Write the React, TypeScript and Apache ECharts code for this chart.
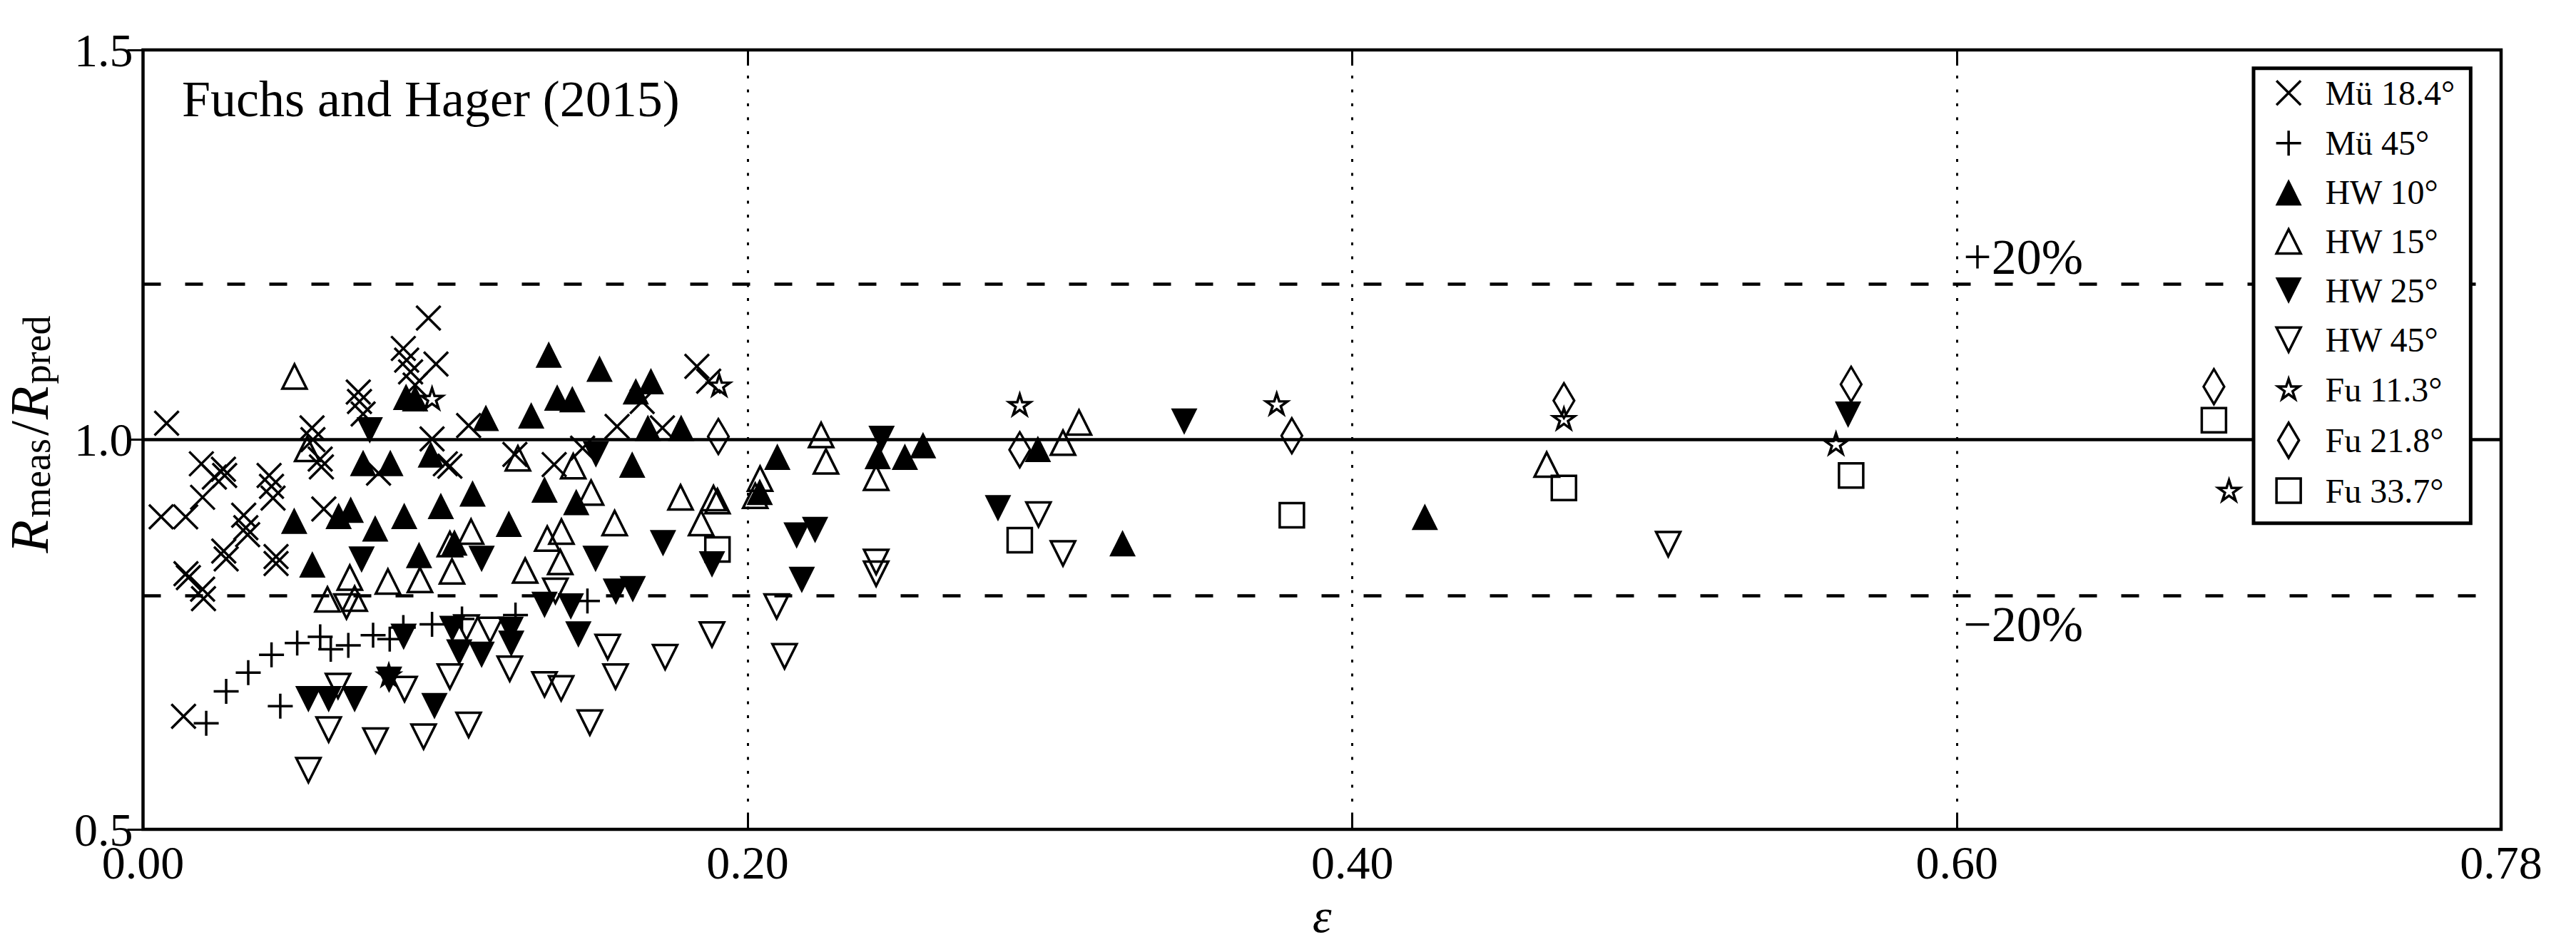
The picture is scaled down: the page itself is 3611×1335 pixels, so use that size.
import React, { useEffect, useRef } from 'react';
import * as echarts from 'echarts';

const FONT = "'Liberation Serif', 'Times New Roman', 'DejaVu Serif', serif";

// ---------- axes ----------
const X_MIN = 0;
const X_MAX = 0.78;
const X_INTERVAL = 0.2;
const Y_MIN = 0.5;
const Y_MAX = 1.5;
const Y_INTERVAL = 0.5;
const X_GRIDLINES = [0.2, 0.4, 0.6];
const REF_SOLID = [1.0];
const REF_DASHED = [1.2, 0.8];

// ---------- series names ----------
const seriesNames = ['Mü 18.4°', 'Mü 45°', 'HW 10°', 'HW 15°', 'HW 25°', 'HW 45°', 'Fu 11.3°', 'Fu 21.8°', 'Fu 33.7°'];

// ---------- data [epsilon, Rmeas/Rpred] ----------
const mu184 = [
  [0.0078, 1.021], [0.006, 0.901], [0.0141, 0.901], [0.0193, 0.969], [0.0236, 0.952], [0.0266, 0.962],
  [0.027, 0.954], [0.0197, 0.926], [0.0333, 0.903], [0.0417, 0.954], [0.0425, 0.94], [0.043, 0.925],
  [0.0142, 0.828], [0.015, 0.823], [0.0197, 0.808], [0.02, 0.796], [0.0267, 0.857], [0.0275, 0.847],
  [0.034, 0.887], [0.0346, 0.878], [0.044, 0.85], [0.044, 0.841], [0.0134, 0.645], [0.0559, 1.015],
  [0.0562, 1.0], [0.0586, 0.975], [0.059, 0.965], [0.0598, 0.911], [0.0712, 1.061], [0.0716, 1.049],
  [0.0728, 1.033], [0.0779, 0.957], [0.0861, 1.117], [0.0872, 1.102], [0.0885, 1.087], [0.09, 1.07],
  [0.0944, 1.156], [0.0969, 1.097], [0.0956, 1.001], [0.1, 0.969], [0.1015, 0.966], [0.1077, 1.018],
  [0.123, 0.981], [0.136, 0.968], [0.1454, 0.989], [0.1568, 1.017], [0.1651, 1.049], [0.1718, 1.015],
  [0.1832, 1.094], [0.1871, 1.075],
];
const mu45 = [
  [0.0209, 0.636], [0.0275, 0.677], [0.0348, 0.701], [0.0425, 0.724], [0.0454, 0.658], [0.051, 0.739],
  [0.0586, 0.747], [0.0621, 0.731], [0.0679, 0.736], [0.0761, 0.749], [0.0816, 0.744], [0.0861, 0.759],
  [0.0956, 0.763], [0.1055, 0.77], [0.1232, 0.775], [0.147, 0.793],
];
const hw10 = [
  [0.05, 0.896], [0.056, 0.84], [0.0647, 0.902], [0.0687, 0.91], [0.0728, 0.97], [0.0818, 0.97],
  [0.0768, 0.886], [0.0864, 0.902], [0.0913, 0.852], [0.0952, 0.981], [0.0985, 0.915], [0.103, 0.868],
  [0.109, 0.931], [0.1134, 1.028], [0.121, 0.892], [0.1284, 1.031], [0.1328, 0.936], [0.1342, 1.109],
  [0.137, 1.054], [0.142, 1.052], [0.1433, 0.92], [0.151, 1.091], [0.1618, 0.968], [0.163, 1.062],
  [0.168, 1.075], [0.167, 1.015], [0.178, 1.015], [0.2098, 0.978], [0.204, 0.933], [0.243, 0.979],
  [0.252, 0.978], [0.258, 0.993], [0.296, 0.988], [0.324, 0.867], [0.424, 0.901], [0.087, 1.055],
  [0.09, 1.053],
];
const hw15 = [
  [0.0501, 1.081], [0.0543, 0.988], [0.061, 0.795], [0.0684, 0.823], [0.07, 0.796], [0.081, 0.818],
  [0.0916, 0.82], [0.1015, 0.866], [0.1022, 0.831], [0.1085, 0.882], [0.124, 0.976], [0.1264, 0.832],
  [0.1337, 0.873], [0.138, 0.843], [0.1384, 0.882], [0.1423, 0.966], [0.1482, 0.932], [0.156, 0.893],
  [0.1778, 0.926], [0.1846, 0.893], [0.1887, 0.925], [0.19, 0.921], [0.2025, 0.928], [0.2041, 0.95],
  [0.2243, 1.006], [0.2259, 0.972], [0.2425, 0.951], [0.3043, 0.996], [0.3096, 1.022], [0.4643, 0.968],
];
const hw25 = [
  [0.0547, 0.667], [0.0614, 0.667], [0.07, 0.667], [0.0723, 0.846], [0.075, 1.012], [0.0814, 0.692],
  [0.0862, 0.747], [0.0964, 0.658], [0.1023, 0.757], [0.1046, 0.727], [0.112, 0.847], [0.112, 0.724],
  [0.1216, 0.756], [0.1218, 0.738], [0.1328, 0.788], [0.1415, 0.786], [0.144, 0.75], [0.1497, 0.847],
  [0.1498, 0.981], [0.1564, 0.805], [0.162, 0.808], [0.172, 0.867], [0.1882, 0.84], [0.2162, 0.877],
  [0.2223, 0.884], [0.2179, 0.82], [0.2443, 1.001], [0.2828, 0.912], [0.3444, 1.023], [0.564, 1.032],
];
const hw45 = [
  [0.0547, 0.576], [0.0614, 0.628], [0.0645, 0.684], [0.0673, 0.786], [0.0769, 0.614], [0.0865, 0.68],
  [0.0928, 0.619], [0.1015, 0.696], [0.1077, 0.634], [0.107, 0.759], [0.1148, 0.756], [0.1213, 0.706],
  [0.1328, 0.686], [0.1383, 0.681], [0.1364, 0.806], [0.1478, 0.637], [0.1537, 0.734], [0.1563, 0.696],
  [0.1727, 0.721], [0.1882, 0.75], [0.2096, 0.786], [0.2122, 0.722], [0.2425, 0.843], [0.2425, 0.828],
  [0.2962, 0.904], [0.3043, 0.854], [0.5045, 0.866],
];
const fu113 = [
  [0.0813, 0.698], [0.0956, 1.053], [0.1906, 1.07], [0.29, 1.045], [0.375, 1.046], [0.47, 1.027],
  [0.56, 0.995], [0.69, 0.935],
];
const fu218 = [
  [0.1903, 1.004], [0.29, 0.987], [0.38, 1.005], [0.47, 1.05], [0.565, 1.071], [0.685, 1.068],
];
const fu337 = [
  [0.19, 0.859], [0.29, 0.871], [0.38, 0.903], [0.47, 0.938], [0.565, 0.954], [0.685, 1.025],
];
const seriesData = [mu184, mu45, hw10, hw15, hw25, hw45, fu113, fu218, fu337];

// ---------- marker shapes ----------
const P_CROSS = 'M0,0L10,10M10,0L0,10';
const P_PLUS = 'M5,0L5,10M0,5L10,5';
const P_UP = 'M5,0L10,10L0,10Z';
const P_DOWN = 'M0,0L10,0L5,10Z';
const P_STAR = 'M10,0L12.24,6.92L19.51,6.91L13.62,11.18L15.88,18.09L10,13.81L4.12,18.09L6.38,11.18L0.49,6.91L7.76,6.92Z';
const P_DIAMOND = 'M5,0L10,8L5,16L0,8Z';
const P_SQUARE = 'M0,0L10,0L10,10L0,10Z';
const SYMBOLS = [P_CROSS, P_PLUS, P_UP, P_UP, P_DOWN, P_DOWN, P_STAR, P_DIAMOND, P_SQUARE];
const SIZES: any[] = [34, 35, 37, 34, 37, 34, [30, 28.5], [29, 49], 34];
const FILLED = [false, false, true, false, true, false, false, false, false];

// legend icons drawn in a 52x52 frame (frame corners fix the scale)
const F = 'M0,0M52,52';
const LEGEND_ICONS = [
  F + 'M9,9L43,43M43,9L9,43',
  F + 'M8.5,26L43.5,26M26,8.5L26,43.5',
  F + 'M26,7.5L44.5,44.5L7.5,44.5Z',
  F + 'M26,9L43,43L9,43Z',
  F + 'M7.5,7.5L44.5,7.5L26,44.5Z',
  F + 'M9,9L43,9L26,43Z',
  F + 'M26,10.5L29.47,21.23L40.74,21.21L31.61,27.82L35.11,38.54L26,31.9L16.89,38.54L20.39,27.82L11.26,21.21L22.53,21.23Z',
  F + 'M26,1.5L40.5,26L26,50.5L11.5,26Z',
  F + 'M9,9L43,9L43,43L9,43Z',
];

const W = 3611;
const H = 1335;
const GRID = { left: 200.5, right: 105, top: 70, bottom: 172 };
const plotW = W - GRID.left - GRID.right;
const plotH = H - GRID.top - GRID.bottom;
const px = (x: number) => GRID.left + ((x - X_MIN) / (X_MAX - X_MIN)) * plotW;
const py = (y: number) => GRID.top + ((Y_MAX - y) / (Y_MAX - Y_MIN)) * plotH;

export default function App() {
  const ref = useRef<HTMLDivElement>(null);
  useEffect(() => {
    document.body.style.margin = '0';
    const chart = echarts.init(ref.current!, undefined, { renderer: 'svg' });

    const markerSeries = seriesNames.map((name, i) => ({
      type: 'scatter',
      name,
      data: seriesData[i],
      symbol: 'path://' + SYMBOLS[i],
      symbolSize: SIZES[i],
      symbolKeepAspect: false,
      z: 3,
      silent: true,
      itemStyle: {
        color: FILLED[i] ? '#000' : 'rgba(0,0,0,0)',
        borderColor: '#000',
        borderWidth: FILLED[i] ? 0 : 3.5,
        opacity: 1,
      },
    }));

    const lineSeries = {
      type: 'scatter',
      name: '__refLines',
      data: [],
      z: 1,
      silent: true,
      markLine: {
        silent: true,
        symbol: 'none',
        animation: false,
        label: { show: false },
        emphasis: { disabled: true },
        data: [
          ...REF_SOLID.map((v) => ({ yAxis: v, lineStyle: { type: 'solid', width: 4.5, color: '#000' } })),
          ...REF_DASHED.map((v) => ({ yAxis: v, lineStyle: { type: [25, 34], width: 4.5, color: '#000' } })),
          ...X_GRIDLINES.map((v) => ({ xAxis: v, lineStyle: { type: [4, 15.5], width: 3, color: '#000' } })),
        ],
      },
    };

    const tickStyle = { show: true, inside: true, length: 22, lineStyle: { color: '#000', width: 3 } };

    const option: any = {
      animation: false,
      backgroundColor: '#fff',
      grid: {
        left: GRID.left, right: GRID.right, top: GRID.top, bottom: GRID.bottom,
        show: true, borderColor: '#000', borderWidth: 4.5, backgroundColor: 'transparent',
      },
      xAxis: [
        {
          type: 'value', min: X_MIN, max: X_MAX, interval: X_INTERVAL, position: 'bottom',
          axisLine: { show: false },
          axisTick: tickStyle,
          splitLine: { show: false },
          axisLabel: {
            show: true, margin: 13, color: '#000', fontFamily: FONT, fontSize: 66,
            formatter: (v: number) => v.toFixed(2),
          },
        },
        {
          type: 'value', min: X_MIN, max: X_MAX, interval: X_INTERVAL, position: 'top',
          axisLine: { show: false }, axisTick: tickStyle, splitLine: { show: false }, axisLabel: { show: false },
        },
      ],
      yAxis: [
        {
          type: 'value', min: Y_MIN, max: Y_MAX, interval: Y_INTERVAL, position: 'left',
          axisLine: { show: false },
          axisTick: tickStyle,
          splitLine: { show: false },
          axisLabel: {
            show: true, margin: 14, color: '#000', fontFamily: FONT, fontSize: 66,
            formatter: (v: number) => v.toFixed(1),
          },
        },
        {
          type: 'value', min: Y_MIN, max: Y_MAX, interval: Y_INTERVAL, position: 'right',
          axisLine: { show: false }, axisTick: tickStyle, splitLine: { show: false }, axisLabel: { show: false },
        },
      ],
      legend: {
        orient: 'vertical',
        left: 3159,
        top: 95.7,
        itemWidth: 92.6,
        itemHeight: 52,
        itemGap: 15.1,
        padding: [6.8, 22, 18, 21.4],
        backgroundColor: '#fff',
        borderColor: '#000',
        borderWidth: 5,
        borderRadius: 0,
        selectedMode: false,
        symbolKeepAspect: true,
        textStyle: { fontFamily: FONT, fontSize: 48, color: '#000' },
        data: seriesNames.map((name, i) => ({
          name,
          icon: 'path://' + LEGEND_ICONS[i],
          itemStyle: {
            color: FILLED[i] ? '#000' : 'rgba(0,0,0,0)',
            borderColor: '#000',
            borderWidth: FILLED[i] ? 0 : 3.5,
          },
        })),
        z: 10,
      },
      graphic: [
        {
          type: 'text', x: 255, y: 139, z: 20, silent: true,
          style: {
            text: 'Fuchs and Hager (2015)', fontFamily: FONT, fontSize: 72, fill: '#000',
            align: 'left', verticalAlign: 'middle', textAlign: 'left', textVerticalAlign: 'middle',
          },
        },
        {
          type: 'text', x: px(0.6) + 9, y: py(1.2) - 37, z: 20, silent: true,
          style: {
            text: '+20%', fontFamily: FONT, fontSize: 70, fill: '#000',
            align: 'left', verticalAlign: 'middle', textAlign: 'left', textVerticalAlign: 'middle',
          },
        },
        {
          type: 'text', x: px(0.6) + 9, y: py(0.8) + 40, z: 20, silent: true,
          style: {
            text: '−20%', fontFamily: FONT, fontSize: 70, fill: '#000',
            align: 'left', verticalAlign: 'middle', textAlign: 'left', textVerticalAlign: 'middle',
          },
        },
        {
          type: 'text', x: GRID.left + plotW / 2, y: 1284, z: 20, silent: true,
          style: {
            text: 'ε', fontFamily: FONT, fontSize: 68, fontStyle: 'italic', fill: '#000',
            align: 'center', verticalAlign: 'middle', textAlign: 'center', textVerticalAlign: 'middle',
          },
        },
        {
          type: 'group', x: 41.3, y: 608, rotation: Math.PI / 2, z: 20, silent: true,
          children: [
            {
              type: 'text', x: 0, y: 0,
              style: {
                text: '{r|R}{s|meas}{n|/}{r|R}{s|pred}',
                fill: '#000',
                align: 'center', verticalAlign: 'middle', textAlign: 'center', textVerticalAlign: 'middle',
                rich: {
                  r: { fontFamily: FONT, fontSize: 76, fontStyle: 'italic', lineHeight: 76, fill: '#000' },
                  n: { fontFamily: FONT, fontSize: 76, lineHeight: 76, fill: '#000', padding: [0, 2, 0, 2] },
                  s: { fontFamily: FONT, fontSize: 54, lineHeight: 41, verticalAlign: 'bottom', fill: '#000', padding: [0, 2, 0, 3] },
                },
              },
            },
          ],
        },
      ],
      series: [lineSeries, ...markerSeries],
    };

    chart.setOption(option);
    return () => chart.dispose();
  }, []);

  return <div ref={ref} style={{ width: W, height: H, background: '#fff' }} />;
}
